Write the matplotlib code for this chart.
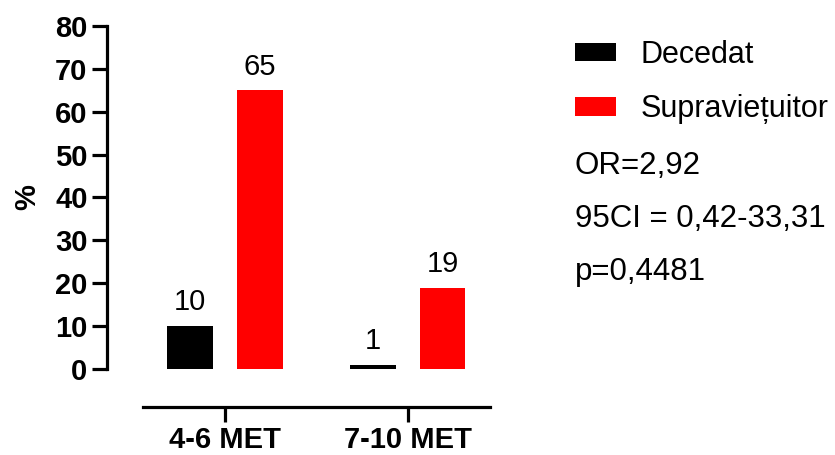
import numpy as np
import matplotlib
matplotlib.use("Agg")
import matplotlib.pyplot as plt

plt.rcParams["font.family"] = ["Liberation Sans", "DejaVu Sans"]

groups = ["4-6 MET", "7-10 MET"]
decedat = [10, 1]
supravietuitor = [65, 19]
series_names = ["Decedat", "Supraviețuitor"]
stats_lines = ["OR=2,92", "95CI = 0,42-33,31", "p=0,4481"]

W, H = 835, 455
fig = plt.figure(figsize=(W / 100, H / 100), dpi=100)
ax = fig.add_axes([107 / W, 1 - 369 / H, (490 - 107) / W, (369 - 26) / H])

x = np.arange(len(groups))
bw, off = 0.25, 0.19
b1 = ax.bar(x - off, decedat, bw, color="black", label=series_names[0])
b2 = ax.bar(x + off, supravietuitor, bw, color="#ff0000", label=series_names[1])

# value labels above each bar
for bars, vals in ((b1, decedat), (b2, supravietuitor)):
    for rect, v in zip(bars, vals):
        ax.annotate(f"{v}", (rect.get_x() + rect.get_width() / 2, v),
                    xytext=(0, 7), textcoords="offset points",
                    ha="center", va="bottom", fontsize=21)

ax.set_xlim(-0.645, 1.45)
ax.set_ylim(0, 80)
ax.set_yticks(range(0, 81, 10))
ax.set_xticks(x)
ax.set_xticklabels(groups)

# open axes, x axis detached below the bars
for s in ("top", "right"):
    ax.spines[s].set_visible(False)
ax.spines["left"].set_linewidth(2.3)
ax.spines["bottom"].set_linewidth(2.3)
ax.spines["bottom"].set_bounds(-0.45, 1.45)
ax.spines["bottom"].set_position(("outward", 27))
ax.tick_params(width=2.3, length=11, labelsize=21, pad=3)
for lab in ax.get_xticklabels() + ax.get_yticklabels():
    lab.set_fontweight("bold")
ax.set_ylabel("%", fontsize=21, fontweight="bold", labelpad=10)

fig.legend(handles=[b1, b2], loc="center left",
           bbox_to_anchor=(575 / W, 1 - 82 / H), frameon=False,
           fontsize=22, handlelength=1.35, handleheight=0.55,
           handletextpad=0.8, labelspacing=0.8, borderpad=0, borderaxespad=0)

for i, line in enumerate(stats_lines):
    fig.text(575 / W, 1 - (166 + 53 * i) / H, line, fontsize=22.5,
             ha="left", va="center")

fig.savefig("out.png", dpi=100)
